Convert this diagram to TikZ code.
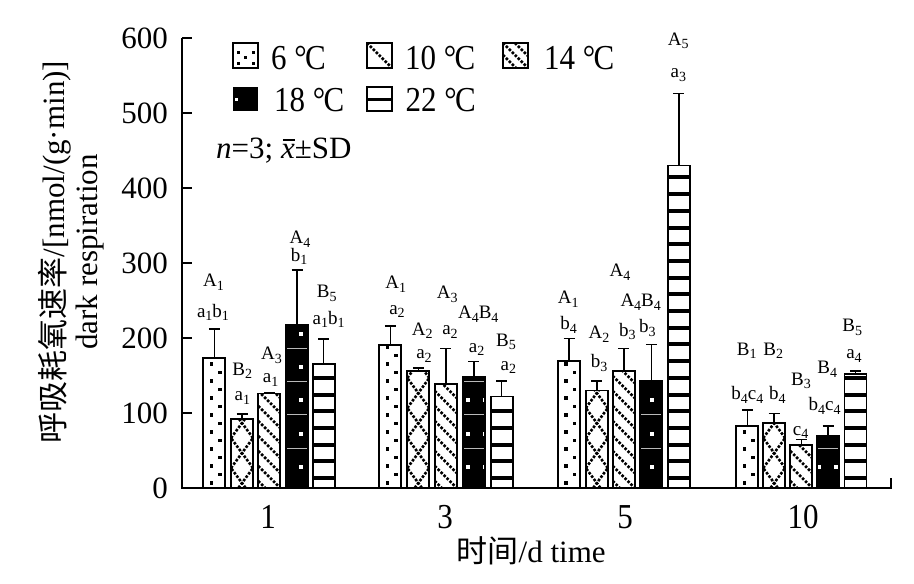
\documentclass[tikz,border=0pt]{standalone}
\usepackage{fontspec}
\setmainfont{Liberation Serif}
\newfontfamily\cjk{Noto Sans CJK SC}
\newcommand\sbs[1]{\raisebox{-0.2em}{\fontsize{14}{14}\selectfont #1}}
\newcommand\degc{°\kern-0.06em C}
\newcommand\tall[1]{\scalebox{1}[1.13]{#1}}
\newcommand\xbar{{\itshape\makebox[0pt][l]{\kern0.06em\rule[0.58em]{0.4em}{0.05em}}x}}
\tikzset{
  barline/.style={line width=1.8pt},
  errline/.style={line width=1.5pt},
  hatch/.style={line width=2.6pt, dash pattern=on 2.6pt off 1.6pt},
  axisline/.style={line width=1.8pt},
  barlab/.style={font=\fontsize{19}{19}\selectfont, anchor=base, inner sep=0pt},
  bigtxt/.style={font=\fontsize{31}{33}\selectfont, inner sep=0pt},
  legtxt/.style={font=\fontsize{31}{33}\selectfont, inner sep=0pt, anchor=base west},
}
\newcommand\patA{\foreach \k in {0,...,19}{\pgfmathsetmacro\dx{mod(\k,2)==0?8:16.5}\fill (\xl+\dx-1.75,483-8.5*\k-1.75) rectangle ++(3.5,3.5);}}
\newcommand\patB{\foreach \k in {-1,...,6}{\draw[hatch] (\xl,498-30*\k) -- (\xr,468-30*\k); \draw[hatch] (\xr,498-30*\k) -- (\xl,468-30*\k);}}
\newcommand\patC{\foreach \k in {-2,...,12}{\draw[hatch] (\xl,466-15*\k) -- (\xr,488-15*\k);}}
\newcommand\patD{\fill (\xl,488) rectangle (\xr,\yt);
  \foreach \k in {0,...,9}{\draw[gray!55,line width=0.7pt] (\xl,448-33.3*\k) -- (\xr,448-33.3*\k);}
  \pgfmathtruncatemacro\mA{floor(\xl/16.7)}
  \foreach \i in {0,1,2}{\foreach \k in {0,...,9}{\fill[white] ({(\mA+\i)*16.7+0.5-2},{467-33.3*\k-2}) rectangle ++(4,4);}}}
\newcommand\patE{\foreach \k in {0,...,20}{\fill (\xl,478-16.7*\k-2) rectangle (\xr,478-16.7*\k+2);}}
\newcommand\onebar[4]{%
  \pgfmathsetmacro\xl{#1-11}\pgfmathsetmacro\xr{#1+11}%
  \pgfmathsetmacro\yt{488-0.75*#2}\pgfmathsetmacro\ye{488-0.75*#3}%
  \begin{scope}
    \clip (\xl,488) rectangle (\xr,\yt);
    \ifcase#4\relax\or\patA\or\patB\or\patC\or\patD\or\patE\fi
  \end{scope}
  \draw[barline] (\xl,488) rectangle (\xr,\yt);
  \draw[errline] (#1,\yt) -- (#1,\ye) (#1-5.5,\ye) -- (#1+5.5,\ye);
}
\begin{document}
\begin{tikzpicture}[x=1pt,y=-1pt]
\useasboundingbox (0,0) rectangle (914,584);
% bars
\onebar{214.3}{173.7}{212}{1}
\onebar{242}{91.5}{99}{2}
\onebar{269.3}{126}{127}{3}
\onebar{297}{217}{291}{4}
\onebar{323.7}{165}{199}{5}
\onebar{390.3}{191}{216}{1}
\onebar{418.3}{156}{160}{2}
\onebar{445.8}{139}{186}{3}
\onebar{473.8}{147.6}{169}{4}
\onebar{501.7}{122}{143}{5}
\onebar{569.2}{169}{199.6}{1}
\onebar{596.8}{130}{143}{2}
\onebar{623.8}{156}{186}{3}
\onebar{651.3}{143}{191.6}{4}
\onebar{678.8}{430}{526}{5}
\onebar{747.3}{82.7}{104}{1}
\onebar{774.2}{87}{99.6}{2}
\onebar{801.3}{57}{65}{3}
\onebar{828}{70}{83}{4}
\onebar{855.5}{151.6}{156}{5}
% axes
\coordinate (o) at (182,488);
\coordinate (ytop) at (182,38);
\coordinate (xend) at (891,488);
\draw[axisline] (ytop) -- (o) -- (xend) -- ++(0,-10);
\foreach \v [count=\i] in {0,100,...,600}{
  \draw[axisline] (182,488-0.75*\v) -- (192,488-0.75*\v);
  \node[bigtxt, anchor=east] (yt\i) at (168,488-0.75*\v) {\v};
}
\foreach \x/\t [count=\i] in {268/1,445/3,625/5,803/10}
  \node[bigtxt, anchor=base] (xt\i) at (\x,528) {\tall{\t}};
\node[bigtxt, anchor=base west] (xtitle) at (456.5,562.5) {{\cjk 时间}/d time};
\node[bigtxt, rotate=90, align=center] (ytitle) at (71,252) {{\cjk 呼吸耗氧速率}/[nmol/(g·min)]\\dark respiration};
% legend swatches
\draw[line width=1.6pt] (233,43) rectangle (258,68);
\foreach \p [count=\i] in {(238,52),(238,63),(245.5,57.5),(253,52),(253,63)}
  \fill \p ++(-1.5,-1.5) rectangle ++(3,3);
\begin{scope}
  \clip (367,43) rectangle (392,68);
  \draw[hatch] (367,43) -- (392,68);
\end{scope}
\draw[line width=1.6pt] (367,43) rectangle (392,68);
\begin{scope}
  \clip (503,43) rectangle (528,68);
  \draw[hatch] (503,43) -- (528,68);
  \draw[hatch] (503,55) -- (516,68);
  \draw[hatch] (515,43) -- (528,56);
\end{scope}
\draw[line width=1.6pt] (503,43) rectangle (528,68);
\fill (233,87) rectangle (258,111);
\fill[white] (235,98) rectangle (238,101);
\draw[line width=1.6pt] (367,87) rectangle (392,111);
\fill (367,97.5) rectangle (392,101);
\node[legtxt] (l1) at (271,69) {\tall{6 \degc}};
\node[legtxt] (l2) at (405,69) {\tall{10 \degc}};
\node[legtxt] (l3) at (544,69) {\tall{14 \degc}};
\node[legtxt] (l4) at (274,111.5) {\tall{18 \degc}};
\node[legtxt] (l5) at (405.5,111.5) {\tall{22 \degc}};
\node[legtxt] (nsd) at (216,158.5) {\textit{n}=3; \xbar±SD};
% significance labels
\foreach \x/\y/\t [count=\i] in {
  213.5/286.7/A\sbs{1}, 213/317/a\sbs{1}b\sbs{1},
  242.3/375/B\sbs{2}, 242.3/400.7/a\sbs{1},
  271.5/359.3/A\sbs{3}, 270.7/382.7/a\sbs{1},
  300/243.3/A\sbs{4}, 299/261/b\sbs{1},
  326.7/297.7/B\sbs{5}, 328.7/324/a\sbs{1}b\sbs{1},
  395.7/288.3/A\sbs{1}, 397/314/a\sbs{2},
  422.3/335/A\sbs{2}, 424/358.7/a\sbs{2},
  447.3/298.3/A\sbs{3}, 450/334.7/a\sbs{2},
  478.3/318.3/A\sbs{4}B\sbs{4}, 476.7/352/a\sbs{2},
  506/346/B\sbs{5}, 508.3/370/a\sbs{2},
  568.3/303.3/A\sbs{1}, 568.7/329.3/b\sbs{4},
  599/338.3/A\sbs{2}, 599/367.7/b\sbs{3},
  620/276.7/A\sbs{4}, 640.7/306.7/A\sbs{4}B\sbs{4},
  627.3/336/b\sbs{3}, 647.3/332.7/b\sbs{3},
  678.3/45/A\sbs{5}, 678.3/77.3/a\sbs{3},
  746.7/355/B\sbs{1}, 773.3/355/B\sbs{2},
  747.3/399.3/b\sbs{4}c\sbs{4}, 777.3/399.3/b\sbs{4},
  801/385/B\sbs{3}, 800.7/435/c\sbs{4},
  827.3/373.3/B\sbs{4}, 824.7/410.7/b\sbs{4}c\sbs{4},
  852.3/331.7/B\sbs{5}, 854/358.3/a\sbs{4}}
  \node[barlab] (sig\i) at (\x,\y) {\t};
\end{tikzpicture}
\end{document}
